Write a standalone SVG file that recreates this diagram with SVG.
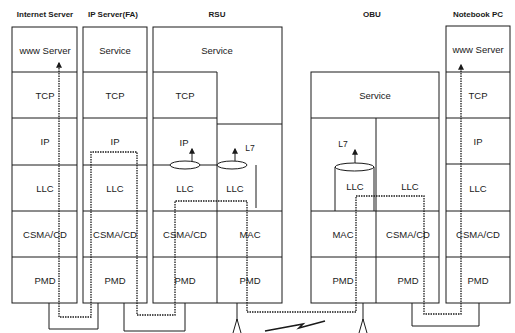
<svg xmlns="http://www.w3.org/2000/svg" width="515" height="333" viewBox="0 0 515 333">
<defs>
<style>
.box{fill:#fff;stroke:#1a1a1a;stroke-width:1}
.ln{fill:none;stroke:#1a1a1a;stroke-width:1}
.t{font-family:"Liberation Sans",Arial,sans-serif;font-size:9.5px;fill:#1a1a1a;text-anchor:middle}
.h{font-family:"Liberation Sans",Arial,sans-serif;font-size:8px;font-weight:bold;fill:#1a1a1a;text-anchor:middle}
.dot{fill:none;stroke:#1a1a1a;stroke-width:1.3;stroke-dasharray:1.5 1}
.cab{fill:none;stroke:#1a1a1a;stroke-width:1}
</style>
<marker id="ah" viewBox="0 0 10 10" refX="8" refY="5" markerWidth="6" markerHeight="6" markerUnits="userSpaceOnUse" orient="auto-start-reverse">
<path d="M0,0 L10,5 L0,10 z" fill="#1a1a1a"/>
</marker>
</defs>
<rect width="515" height="333" fill="#fff"/>

<g id="internet-server">
<text class="h" x="45" y="17">Internet Server</text>
<rect class="box" x="12" y="27" width="65" height="276"/>
<path class="ln" d="M12,72H77M12,118H77M12,165H77M12,211H77M12,257H77"/>
<text class="t" x="45" y="54">www Server</text>
<text class="t" x="45" y="99">TCP</text>
<text class="t" x="45" y="145">IP</text>
<text class="t" x="45" y="192">LLC</text>
<text class="t" x="45" y="238">CSMA/CD</text>
<text class="t" x="45" y="284">PMD</text>
</g>

<g id="ip-server">
<text class="h" x="113" y="17">IP Server(FA)</text>
<rect class="box" x="83" y="27" width="64" height="276"/>
<path class="ln" d="M83,72H147M83,118H147M83,165H147M83,211H147M83,257H147"/>
<text class="t" x="115" y="54">Service</text>
<text class="t" x="115" y="99">TCP</text>
<text class="t" x="115" y="145">IP</text>
<text class="t" x="115" y="192">LLC</text>
<text class="t" x="115" y="238">CSMA/CD</text>
<text class="t" x="115" y="284">PMD</text>
</g>

<g id="rsu">
<text class="h" x="217" y="17">RSU</text>
<rect class="box" x="153" y="27" width="129" height="276"/>
<path class="ln" d="M153,72H217V303M153,118H217M217,124H282M153,165H217M256,165V208M153,211H282M153,257H282"/>
<text class="t" x="217" y="54">Service</text>
<text class="t" x="185" y="99">TCP</text>
<text class="t" x="184" y="146">IP</text>
<text class="t" x="250" y="151" style="font-size:8.5px">L7</text>
<text class="t" x="185" y="192">LLC</text>
<text class="t" x="235" y="192">LLC</text>
<text class="t" x="185" y="238">CSMA/CD</text>
<text class="t" x="250" y="238">MAC</text>
<text class="t" x="185" y="284">PMD</text>
<text class="t" x="250" y="284">PMD</text>
<ellipse cx="185" cy="165" rx="15" ry="4" fill="#fff" stroke="#1a1a1a" stroke-width="1"/>
<ellipse cx="232" cy="165" rx="15" ry="4" fill="#fff" stroke="#1a1a1a" stroke-width="1"/>
<path class="ln" d="M192,161V149" marker-end="url(#ah)"/>
<path class="ln" d="M235,161V149" marker-end="url(#ah)"/>
</g>

<g id="obu">
<text class="h" x="372" y="17">OBU</text>
<rect class="box" x="311" y="72" width="128" height="231"/>
<path class="ln" d="M311,118H439M376,118V303M311,211H439M311,257H439"/>
<path class="ln" d="M335,167V211M374,167V211"/>
<ellipse cx="354.5" cy="167" rx="19.5" ry="4" fill="#fff" stroke="#1a1a1a" stroke-width="1"/>
<path class="ln" d="M355,163V150" marker-end="url(#ah)"/>
<text class="t" x="375" y="99">Service</text>
<text class="t" x="343" y="147" style="font-size:8.5px">L7</text>
<text class="t" x="355" y="190">LLC</text>
<text class="t" x="410" y="190">LLC</text>
<text class="t" x="343" y="238">MAC</text>
<text class="t" x="408" y="238">CSMA/CD</text>
<text class="t" x="343" y="284">PMD</text>
<text class="t" x="408" y="284">PMD</text>
</g>

<g id="notebook-pc">
<text class="h" x="478" y="17">Notebook PC</text>
<rect class="box" x="446" y="26" width="64" height="277"/>
<path class="ln" d="M446,72H510M446,118H510M446,164H510M446,211H510M446,257H510"/>
<text class="t" x="478" y="53">www Server</text>
<text class="t" x="478" y="99">TCP</text>
<text class="t" x="478" y="145">IP</text>
<text class="t" x="478" y="192">LLC</text>
<text class="t" x="478" y="238">CSMA/CD</text>
<text class="t" x="478" y="284">PMD</text>
</g>

<g id="connectors">
<path class="cab" d="M49,303V329H98V303"/>
<path class="cab" d="M124,303V331H185V303"/>
<path class="cab" d="M412,303V326H479V303"/>
<path class="cab" d="M237,303V321M233,333L237,319L241,333"/>
<path class="cab" d="M363,303V320M359,333L363,319L367,333"/>
<path d="M265,331L303,324L299,328L325,321" fill="none" stroke="#1a1a1a" stroke-width="1.6"/>
<path class="dot" d="M59,63V317H91V152H137V315H175V201H247V312H356V196H424V314H461V65" marker-start="url(#ah)" marker-end="url(#ah)"/>
</g>
</svg>
